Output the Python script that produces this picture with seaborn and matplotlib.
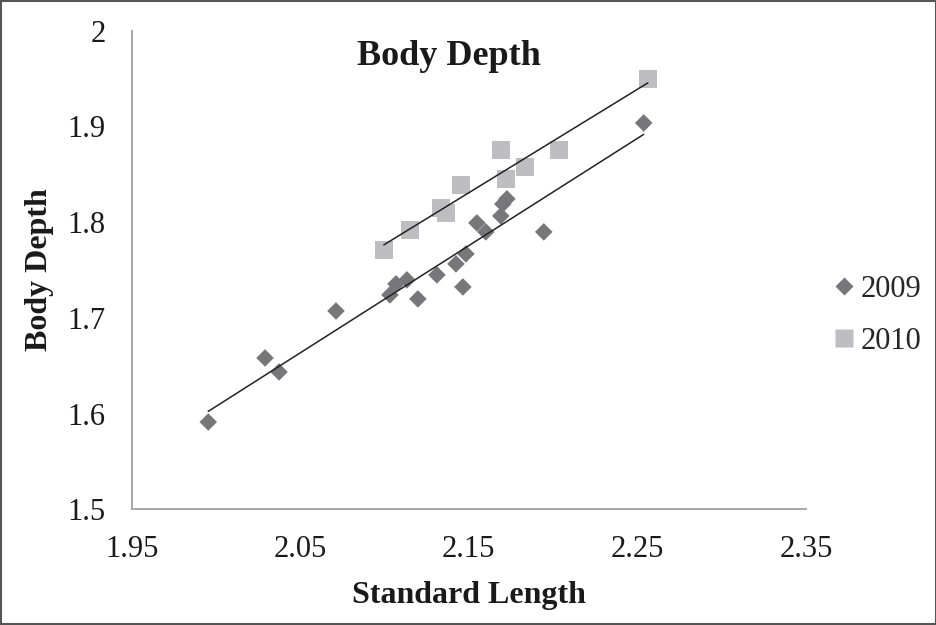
import matplotlib
matplotlib.use("Agg")
import matplotlib.pyplot as plt
import seaborn as sns
import pandas as pd
from matplotlib.lines import Line2D
from matplotlib.patches import Rectangle

# ---- data ----
len_2009 = [1.9954, 2.0291, 2.0374, 2.0712, 2.1032, 2.1068, 2.1133, 2.1198, 2.1311, 2.1424,
            2.1465, 2.1483, 2.1548, 2.1601, 2.1690, 2.1702, 2.1726, 2.1945, 2.2538]
depth_2009 = [1.5912, 1.6581, 1.6435, 1.7072, 1.7240, 1.7355, 1.7397, 1.7198, 1.7449, 1.7564,
              1.7323, 1.7668, 1.7992, 1.7898, 1.8065, 1.8190, 1.8243, 1.7898, 1.9036]
len_2010 = [2.0996, 2.1151, 2.1335, 2.1364, 2.1453, 2.1690, 2.1720, 2.1833, 2.2035, 2.2563]
depth_2010 = [1.7710, 1.7919, 1.8150, 1.8096, 1.8389, 1.8755, 1.8452, 1.8577, 1.8755, 1.9497]
series_labels = ["2009", "2010"]
x_ticks = [1.95, 2.05, 2.15, 2.25, 2.35]
y_ticks = [1.5, 1.6, 1.7, 1.8, 1.9, 2.0]
x_tick_labels = ["1.95", "2.05", "2.15", "2.25", "2.35"]
y_tick_labels = ["1.5", "1.6", "1.7", "1.8", "1.9", "2"]

df09 = pd.DataFrame({"Standard Length": len_2009, "Body Depth": depth_2009})
df10 = pd.DataFrame({"Standard Length": len_2010, "Body Depth": depth_2010})

sns.set_style("white")
plt.rcParams["font.family"] = ["Liberation Serif", "DejaVu Serif"]

c09 = "#77777a"
c10 = "#bebec2"
axis_col = "#a6a6a8"

fig = plt.figure(figsize=(9.37, 6.25), dpi=100)
ax = fig.add_axes([0.1406, 0.1851, 0.7194, 0.7658])

sns.regplot(data=df09, x="Standard Length", y="Body Depth", scatter=False, ci=None,
            truncate=True, ax=ax, line_kws=dict(color="#222222", lw=1.1, zorder=3))
sns.regplot(data=df10, x="Standard Length", y="Body Depth", scatter=False, ci=None,
            truncate=True, ax=ax, line_kws=dict(color="#222222", lw=1.1, zorder=3))
sns.scatterplot(data=df09, x="Standard Length", y="Body Depth", marker="D", s=80,
                color=c09, edgecolor="none", ax=ax, zorder=2)
sns.scatterplot(data=df10, x="Standard Length", y="Body Depth", marker="s", s=165,
                color=c10, edgecolor="none", ax=ax, zorder=2)

ax.set_xlim(1.95, 2.35)
ax.set_ylim(1.5, 2.0)
ax.set_xticks(x_ticks)
ax.set_xticklabels(x_tick_labels)
ax.set_yticks(y_ticks)
ax.set_yticklabels(y_tick_labels)
ax.tick_params(axis="both", direction="out", length=6.7, width=1.2, color=axis_col,
               labelsize=22, labelcolor="#1a1a1a")
ax.tick_params(axis="x", pad=12)
ax.tick_params(axis="y", pad=12)
for s in ["top", "right"]:
    ax.spines[s].set_visible(False)
for s in ["left", "bottom"]:
    ax.spines[s].set_color(axis_col)
    ax.spines[s].set_linewidth(1.4)

ax.set_xlabel("Standard Length", fontsize=23, fontweight="bold", color="#1a1a1a", labelpad=12)
ax.set_ylabel("Body Depth", fontsize=23, fontweight="bold", color="#1a1a1a", labelpad=10)
ax.text(0.47, 0.947, "Body Depth", transform=ax.transAxes, ha="center", va="center",
        fontsize=26, fontweight="bold", color="#1a1a1a")

handles = [Line2D([], [], marker="D", color=c09, ls="none", markersize=9.5, markeredgecolor="none"),
           Line2D([], [], marker="s", color=c10, ls="none", markersize=13, markeredgecolor="none")]
fig.legend(handles, series_labels, loc="center left", bbox_to_anchor=(0.878, 0.495),
           frameon=False, fontsize=22, handlelength=0.6, handletextpad=0.25,
           labelspacing=0.75, borderaxespad=0)

fig.patches.append(Rectangle((0.001, 0.001), 0.998, 0.998, transform=fig.transFigure,
                             fill=False, edgecolor="#555555", lw=1.5))

fig.savefig("out.png", dpi=100)
